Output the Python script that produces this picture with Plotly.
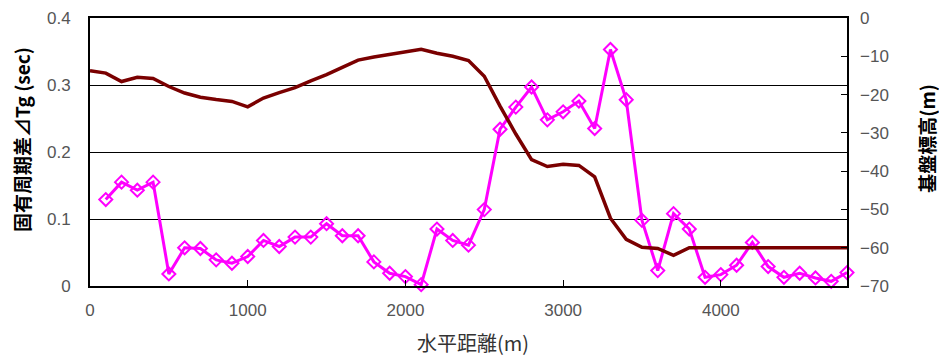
import plotly.graph_objects as go

# Magenta series: 固有周期差 ΔTg (sec)
dist_tg = [100, 200, 300, 400, 500, 600, 700, 800, 900, 1000,
           1100, 1200, 1300, 1400, 1500, 1600, 1700, 1800, 1900, 2000,
           2100, 2200, 2300, 2400, 2500, 2600, 2700, 2800, 2900, 3000,
           3100, 3200, 3300, 3400, 3500, 3600, 3700, 3800, 3900, 4000,
           4100, 4200, 4300, 4400, 4500, 4600, 4700, 4800]
tg = [0.129, 0.155, 0.143, 0.155, 0.018, 0.057, 0.056, 0.039, 0.034, 0.044,
      0.068, 0.059, 0.073, 0.073, 0.093, 0.075, 0.075, 0.036, 0.019, 0.014,
      0.002, 0.085, 0.068, 0.061, 0.114, 0.234, 0.267, 0.297, 0.248, 0.260,
      0.276, 0.235, 0.353, 0.278, 0.098, 0.023, 0.108, 0.085, 0.013, 0.017,
      0.031, 0.065, 0.029, 0.013, 0.019, 0.012, 0.007, 0.020]

# Dark red series: 基盤標高 (m)
dist_base = [0, 100, 200, 300, 400, 500, 600, 700, 800, 900, 1000,
             1100, 1200, 1300, 1400, 1500, 1600, 1700, 1800, 1900, 2000,
             2100, 2200, 2300, 2400, 2500, 2600, 2700, 2800, 2900, 3000,
             3100, 3200, 3300, 3400, 3500, 3600, 3700, 3800, 3900, 4000,
             4100, 4200, 4300, 4400, 4500, 4600, 4700, 4800]
base = [-13.8, -14.4, -16.6, -15.5, -15.8, -17.9, -19.6, -20.7, -21.3, -21.8, -23.2,
        -20.9, -19.5, -18.2, -16.4, -14.8, -12.9, -11.0, -10.2, -9.5, -8.8,
        -8.2, -9.2, -10.0, -11.1, -15.2, -23.0, -30.3, -37.0, -38.8, -38.2,
        -38.5, -41.5, -52.3, -57.8, -59.9, -60.2, -62.0, -60.0, -60.0, -60.0,
        -60.0, -60.0, -60.0, -60.0, -60.0, -60.0, -60.0, -60.0]

x_ticks = [0, 1000, 2000, 3000, 4000]
y1_ticks = [0, 0.1, 0.2, 0.3, 0.4]
y1_labels = ["0", "0.1", "0.2", "0.3", "0.4"]
y2_ticks = [0, -10, -20, -30, -40, -50, -60, -70]
y2_labels = ["0", "\u221210", "\u221220", "\u221230", "\u221240", "\u221250", "\u221260", "\u221270"]

x_title = "水平距離(m)"
y1_title = "固有周期差⊿Tg (sec)"
y2_title = "基盤標高(m)"

FONT = "Noto Sans CJK JP"
TICKFONT = dict(family="Liberation Sans, DejaVu Sans", size=17, color="#555")

fig = go.Figure()
fig.add_trace(go.Scatter(
    x=dist_tg, y=tg, mode="lines+markers",
    line=dict(color="#FF00FF", width=3),
    marker=dict(symbol="diamond-open", size=10, color="#FF00FF",
                line=dict(color="#FF00FF", width=2)),
    cliponaxis=False, showlegend=False))
fig.add_trace(go.Scatter(
    x=dist_base, y=base, mode="lines", yaxis="y2",
    line=dict(color="#7A0000", width=3.5),
    showlegend=False))

fig.update_layout(
    width=939, height=348,
    margin=dict(l=82, r=100, t=10, b=70, autoexpand=False),
    paper_bgcolor="white", plot_bgcolor="white",
    font=dict(family=FONT, color="#222"),
    xaxis=dict(range=[0, 4800], tickvals=x_ticks, ticktext=[str(v) for v in x_ticks],
               showgrid=False, zeroline=False, automargin=False,
               showline=True, linecolor="black", linewidth=2, mirror=True,
               ticks="inside", ticklen=6, tickcolor="black",
               ticklabelstandoff=8, tickfont=TICKFONT),
    yaxis=dict(range=[0, 0.4], tickvals=y1_ticks, ticktext=y1_labels,
               showgrid=True, gridcolor="black", gridwidth=1,
               zeroline=False, automargin=False,
               showline=True, linecolor="black", linewidth=2, mirror=True,
               ticks="", tickfont=TICKFONT, ticklabelstandoff=14),
    yaxis2=dict(range=[-70, 0], tickvals=y2_ticks, ticktext=y2_labels,
                overlaying="y", side="right", showgrid=False, zeroline=False,
                automargin=False,
                ticks="inside", ticklen=6, tickcolor="black",
                ticklabelstandoff=12, tickfont=TICKFONT),
    annotations=[
        dict(text=x_title, xref="paper", yref="paper", x=0.506, y=-0.21,
             xanchor="center", yanchor="middle", showarrow=False,
             font=dict(family=FONT, size=20, color="#333")),
        dict(text="<b>" + y1_title + "</b>", xref="paper", yref="paper",
             x=-0.0898, y=0.545, textangle=-90,
             xanchor="center", yanchor="middle", showarrow=False,
             font=dict(family=FONT, size=19, color="black")),
        dict(text="<b>" + y2_title + "</b>", xref="paper", yref="paper",
             x=1.104, y=0.552, textangle=-90,
             xanchor="center", yanchor="middle", showarrow=False,
             font=dict(family=FONT, size=19, color="black")),
    ],
)

fig.write_html("out.html")
